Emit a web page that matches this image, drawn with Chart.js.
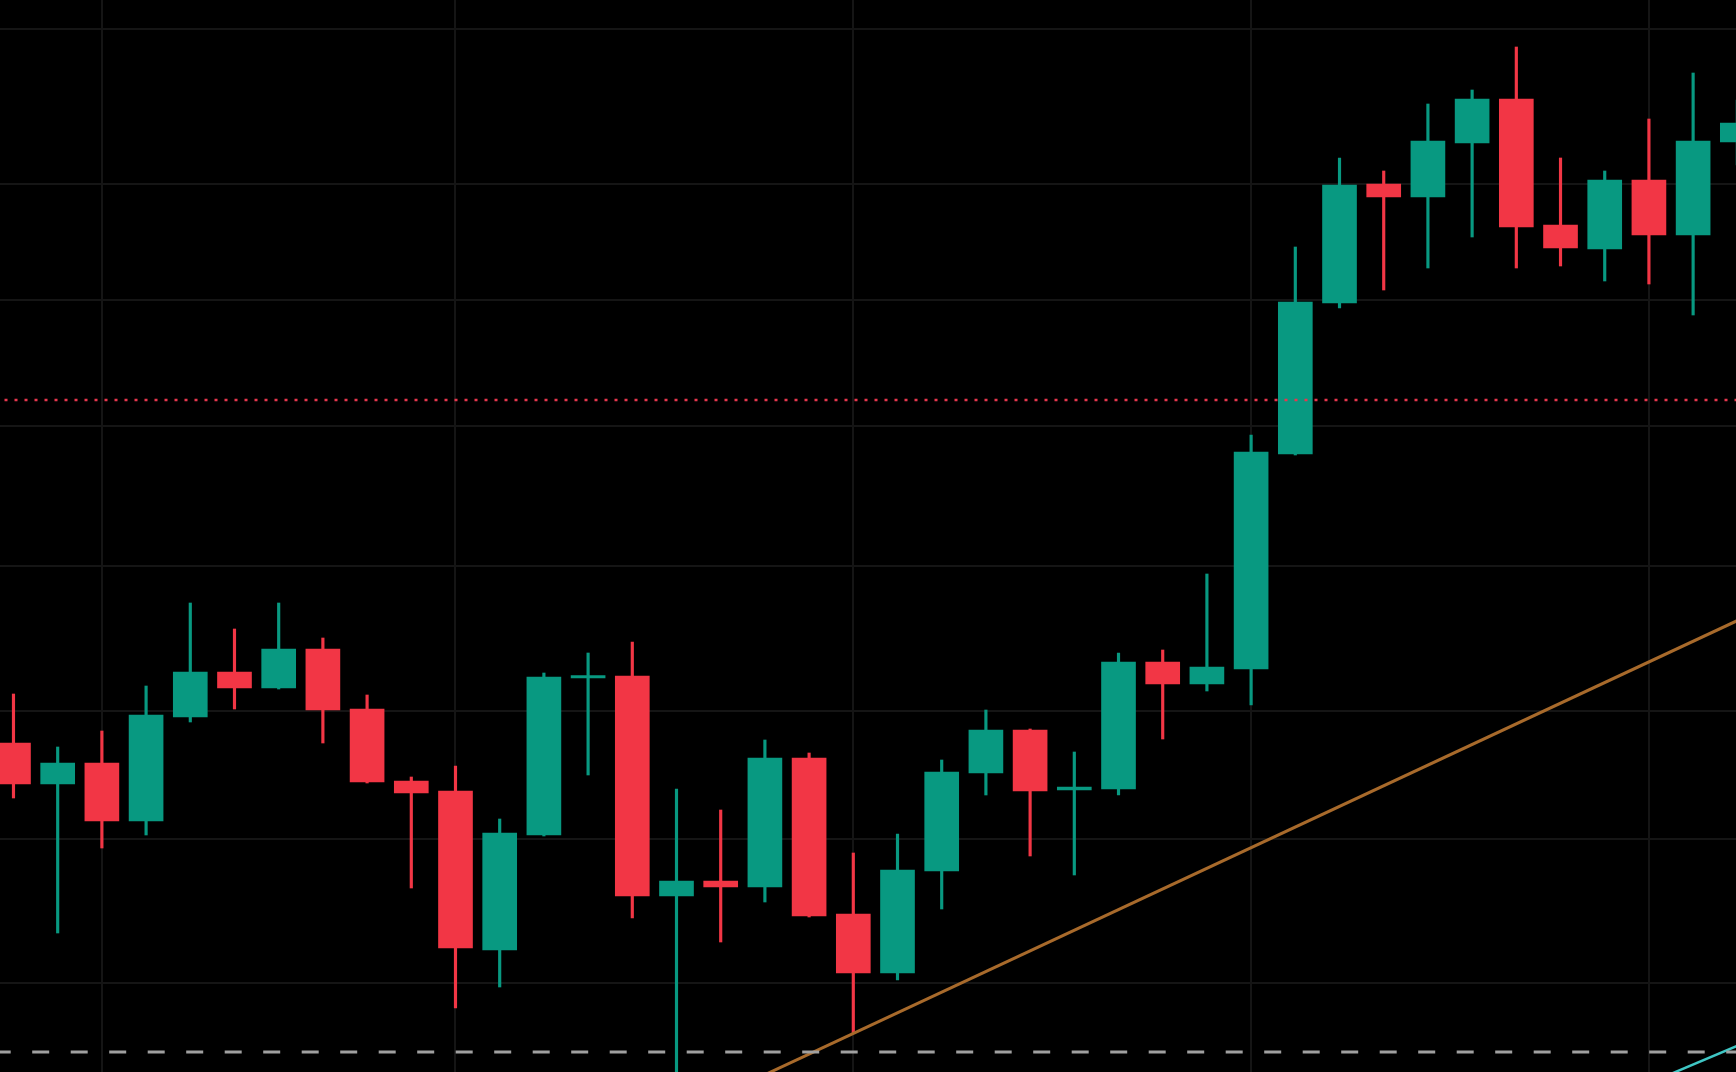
<!DOCTYPE html>
<html>
<head>
<meta charset="utf-8">
<title>Candles</title>
<script src="https://cdn.jsdelivr.net/npm/chart.js@4.4.1/dist/chart.umd.min.js"></script>
<style>
  html, body { margin: 0; padding: 0; background: #000; }
  #wrap { width: 1736px; height: 1072px; position: relative; }
</style>
</head>
<body>
<div id="wrap"><canvas id="candles"></canvas></div>
<script>
// OHLC, one entry per candle (index 0..39)
const opens  = [132.9, 128.8, 130.9, 125.1, 135.5, 140.0, 138.4, 142.3, 136.3, 129.1,
                128.1, 112.2, 123.7, 139.4, 139.6, 117.6, 119.1, 118.5, 131.4, 115.8,
                109.9, 120.1, 129.9, 134.2, 128.2, 128.3, 141.0, 138.8, 140.3, 161.8,
                176.9, 188.8, 187.5, 192.9, 197.3, 184.7, 182.3, 189.2, 183.7, 193.0];
const highs  = [137.8, 132.5, 134.1, 138.6, 146.9, 144.3, 146.9, 143.4, 137.7, 129.5,
                130.6, 125.3, 139.9, 141.9, 143.0, 128.3, 126.2, 133.2, 131.9, 121.9,
                123.8, 131.2, 136.2, 134.3, 132.0, 141.9, 142.2, 149.8, 163.7, 182.5,
                191.4, 190.1, 196.8, 198.2, 202.5, 191.4, 190.1, 195.3, 199.9, 197.2];
const lows   = [127.4, 113.9, 122.4, 123.7, 135.0, 136.3, 138.3, 132.9, 128.9, 118.4,
                106.4, 108.5, 123.6, 129.7, 115.4,  97.2, 113.0, 117.0, 115.5, 103.9,
                109.2, 116.3, 127.7, 121.6, 119.7, 127.7, 133.3, 138.1, 136.7, 161.7,
                176.4, 178.2, 180.4, 183.5, 180.4, 180.6, 179.1, 178.8, 175.7, 190.7];
const closes = [128.8, 130.9, 125.1, 135.7, 140.0, 138.4, 142.3, 136.2, 129.0, 127.9,
                112.4, 123.9, 139.5, 139.6, 117.6, 119.1, 118.5, 131.4, 115.6, 109.9,
                120.2, 130.0, 134.2, 128.1, 128.5, 141.0, 138.8, 140.5, 162.0, 177.0,
                188.7, 187.5, 193.1, 197.3, 184.5, 182.4, 189.2, 183.7, 193.1, 194.9];

// grid positions (prices / candle indices) and drawn levels
const priceGrid = [204.3, 188.8, 177.2, 164.6, 150.6, 136.1, 123.3, 108.9];
const timeGrid = [2, 10, 19, 28, 37];
const resistance = 167.2;   // red dotted level
const support = 102.0;      // grey dashed level
const trendX = [15, 40];
const trendY = [95.6, 147.2];
const channelX = [36, 40];
const channelY = [97.0, 104.5];

const xMin = -0.305, xMax = 38.97;
const yMin = 100, yMax = 207.2;

const up = '#089981';
const down = '#f23645';

const idx = opens.map((_, i) => i);
const colors = idx.map(i => closes[i] >= opens[i] ? up : down);

const ctx = document.getElementById('candles').getContext('2d');

new Chart(ctx, {
    type: 'bar',
    data: {
        datasets: [
            {
                label: 'wick',
                data: idx.map(i => ({ x: i, y: [lows[i], highs[i]] })),
                backgroundColor: colors,
                barThickness: 2.5,
                grouped: false,
                order: 2
            },
            {
                label: 'body',
                data: idx.map(i => ({ x: i, y: [opens[i], closes[i]] })),
                backgroundColor: colors,
                barThickness: 34,
                minBarLength: 2.5,
                grouped: false,
                order: 1
            },
            {
                type: 'line',
                label: 'resistance',
                data: [{ x: xMin, y: resistance }, { x: xMax, y: resistance }],
                borderColor: '#e8384f',
                borderWidth: 2.5,
                borderDash: [3, 7],
                borderDashOffset: 5.5,
                pointRadius: 0,
                order: 0
            },
            {
                type: 'line',
                label: 'support',
                data: [{ x: xMin, y: support }, { x: xMax, y: support }],
                borderColor: '#a0a0a0',
                borderWidth: 3,
                borderDash: [17, 21.5],
                borderDashOffset: 6.3,
                pointRadius: 0,
                order: 0
            },
            {
                type: 'line',
                label: 'trend',
                data: trendX.map((x, i) => ({ x: x, y: trendY[i] })),
                borderColor: '#a86a2b',
                borderWidth: 3,
                pointRadius: 0,
                order: 0
            },
            {
                type: 'line',
                label: 'channel',
                data: channelX.map((x, i) => ({ x: x, y: channelY[i] })),
                borderColor: '#3fc6c4',
                borderWidth: 2.5,
                pointRadius: 0,
                order: 0
            }
        ]
    },
    options: {
        responsive: true,
        maintainAspectRatio: false,
        animation: false,
        layout: { padding: 0 },
        plugins: {
            legend: { display: false },
            tooltip: { enabled: false }
        },
        scales: {
            x: {
                type: 'linear',
                min: xMin,
                max: xMax,
                offset: false,
                afterBuildTicks: axis => { axis.ticks = timeGrid.map(v => ({ value: v })); },
                afterFit: axis => { axis.height = 0; },
                grid: { color: '#151515', lineWidth: 2, offset: false, drawTicks: false },
                border: { display: false },
                ticks: { display: false }
            },
            y: {
                min: yMin,
                max: yMax,
                beginAtZero: false,
                afterBuildTicks: axis => { axis.ticks = priceGrid.map(v => ({ value: v })); },
                afterFit: axis => { axis.width = 0; },
                grid: { color: '#151515', lineWidth: 2, drawTicks: false },
                border: { display: false },
                ticks: { display: false }
            }
        }
    }
});
</script>
</body>
</html>
